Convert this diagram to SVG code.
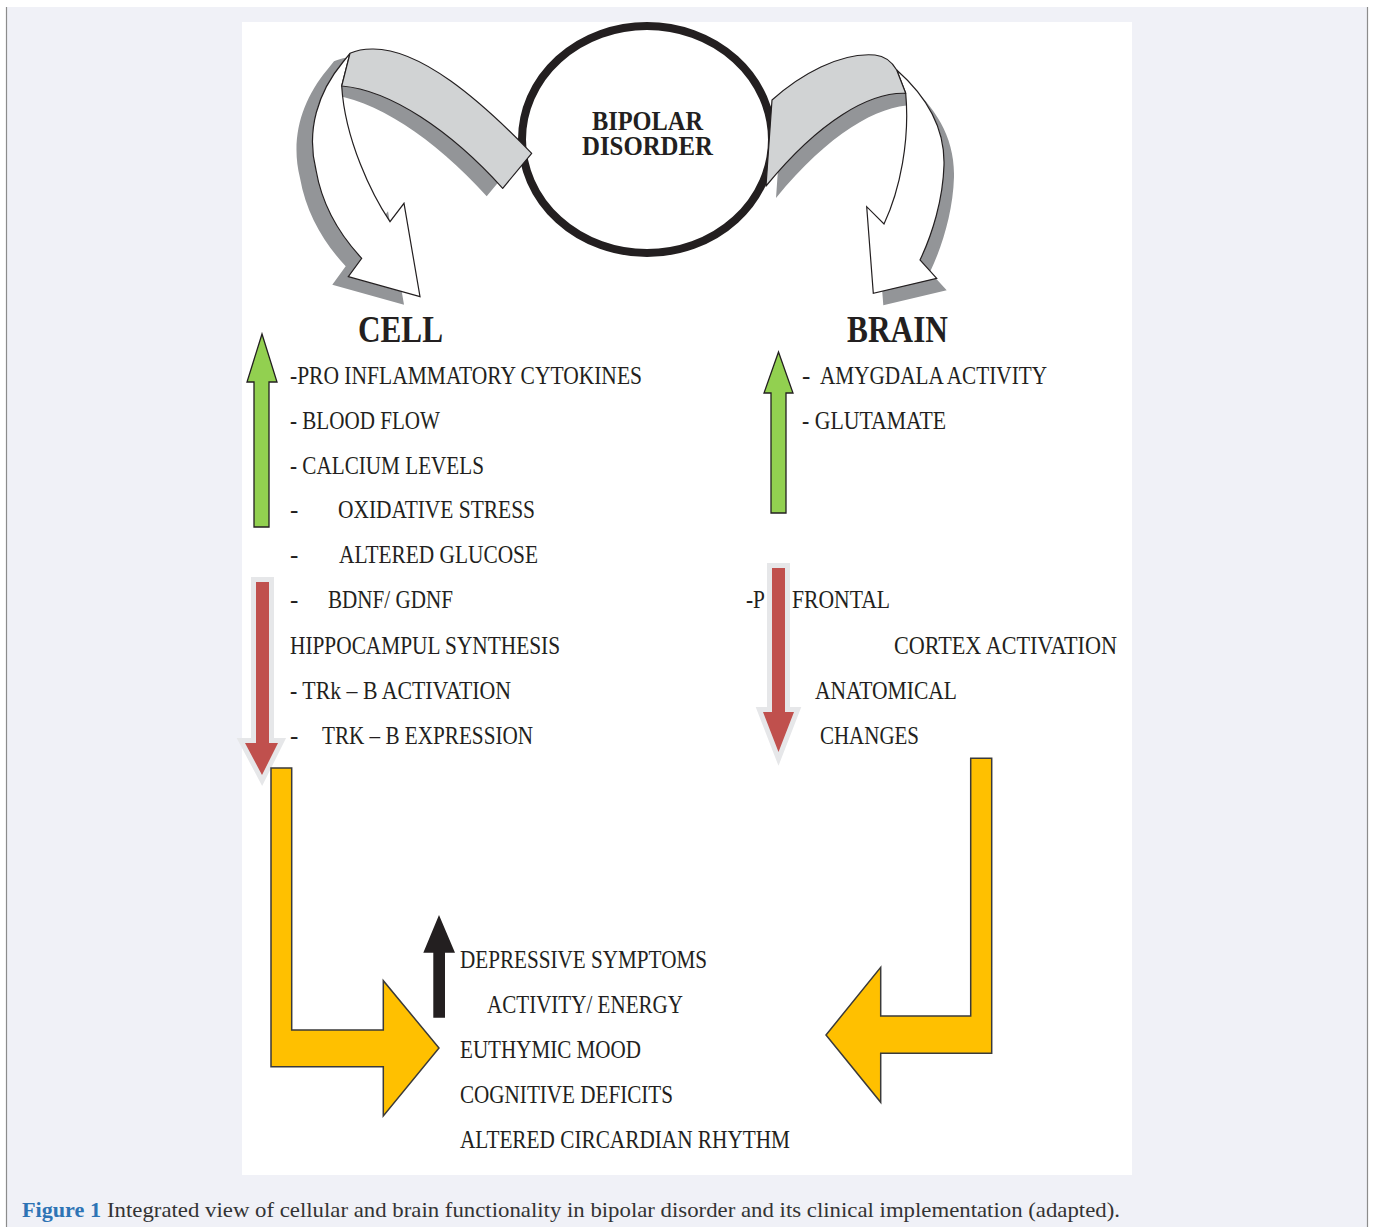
<svg xmlns="http://www.w3.org/2000/svg" width="1373" height="1227" viewBox="0 0 1373 1227">
<style>
.t{font-family:"Liberation Serif","Times New Roman",serif;font-size:25px;fill:#231f20}
.h{font-family:"Liberation Serif","Times New Roman",serif;font-weight:bold;fill:#231f20}
.cap{font-family:"Liberation Serif","Times New Roman",serif;font-size:21px;fill:#333333}
.shadow{fill:#939598;stroke:none}
.band{fill:#d1d3d4;stroke:#231f20;stroke-width:1.2;stroke-linejoin:round}
.white{fill:#ffffff;stroke:#231f20;stroke-width:1.2;stroke-linejoin:miter}
.green{fill:#92d050;stroke:#231f20;stroke-width:1.3}
.red{fill:#c0504d;stroke:#e6e7e9;stroke-width:10;paint-order:stroke;stroke-linejoin:miter;stroke-miterlimit:10}
.yellow{fill:#ffc000;stroke:#3a3a3a;stroke-width:1.5}
</style>
<defs>
<path id="lshape" d="M531.7,153.3 C480,100 420,48 372,49 C362,49 355,51 350,53.3 L343,62 C318,92 306,130 316,170 C322,205 340,235 361.7,258.3 L348.3,276.7 L420,296.7 L404,203.3 L390,221.7 C372,195 345,140 341.7,86 C390,90 450,130 502.7,188.3 Z"/>
<path id="rshape" d="M772,100 C800,75 840,52 875,55 C885,56 892,62 896.7,70 C925,95 945,125 944,165 C943,200 932,235 920,260 L936.7,278.3 L873.3,293.3 L866.7,206.7 L884,224 C900,190 910,140 905.7,93.3 C870,92 820,120 766,186 Z"/>
</defs>
<rect x="0" y="0" width="1373" height="1227" fill="#ffffff"/>
<rect x="6" y="7" width="1362" height="1220" fill="#f0f1f7"/>
<line x1="6.5" y1="7" x2="6.5" y2="1227" stroke="#8c8c8c" stroke-width="1.2"/>
<line x1="1367.5" y1="7" x2="1367.5" y2="1227" stroke="#8c8c8c" stroke-width="1.2"/>
<rect x="242" y="22" width="890" height="1153" fill="#ffffff"/>

<g id="bipolar-disorder">
<ellipse cx="647" cy="139.5" rx="125" ry="113.5" fill="#ffffff" stroke="#231f20" stroke-width="8"/>
<text class="h" font-size="27"><tspan x="592" y="130" textLength="111" lengthAdjust="spacingAndGlyphs">BIPOLAR</tspan><tspan x="582" y="155" textLength="131" lengthAdjust="spacingAndGlyphs">DISORDER</tspan></text>
</g>

<g id="connectors">
<g id="arrow-to-cell">
<use href="#lshape" class="shadow" transform="translate(-16,8)"/>
<path class="white" d="M350,53.3 L343,62 C318,92 306,130 316,170 C322,205 340,235 361.7,258.3 L348.3,276.7 L420,296.7 L404,203.3 L390,221.7 C372,195 345,140 341.7,86 Z"/>
<path class="band" d="M531.7,153.3 C480,100 420,48 372,49 C362,49 355,51 350,53.3 L341.7,86 C390,90 450,130 502.7,188.3 Z"/>
</g>
<g id="arrow-to-brain">
<use href="#rshape" class="shadow" transform="translate(10,12)"/>
<path class="white" d="M896.7,70 C925,95 945,125 944,165 C943,200 932,235 920,260 L936.7,278.3 L873.3,293.3 L866.7,206.7 L884,224 C900,190 910,140 905.7,93.3 Z"/>
<path class="band" d="M772,100 C800,75 840,52 875,55 C885,56 892,62 896.7,70 L905.7,93.3 C870,92 820,120 766,186 Z"/>
</g>
<polygon class="green" points="262,334 277,382 269,382 269,527 254,527 254,382 247,382"/>
<polygon class="green" points="778.5,352 793,393 786,393 786,513 771,513 771,393 764,393"/>
<polygon class="red" points="256,582 269,582 269,743 278,743 262,775 245,743 256,743"/>
<polygon class="red" points="772,568 785,568 785,712 794,712 778.5,752 763,712 772,712"/>
<polygon class="yellow" points="271,768 291.7,768 291.7,1030 383.3,1030 383.3,980.7 439,1048 383.3,1116 383.3,1066.7 271,1066.7"/>
<polygon class="yellow" points="970.7,758.3 991.7,758.3 991.7,1053.3 880.7,1053.3 880.7,1102.3 826,1035 880.7,967.3 880.7,1016 970.7,1016"/>
<polygon points="433.3,1017.7 445,1017.7 445,952.7 455,952.7 439,915 423.3,952.7 433.3,952.7" fill="#231f20"/>
</g>

<g id="cell">
<text class="h" x="358" y="342" font-size="38" textLength="85" lengthAdjust="spacingAndGlyphs">CELL</text>
<text class="t" x="290" y="384" textLength="352" lengthAdjust="spacingAndGlyphs">-PRO INFLAMMATORY CYTOKINES</text>
<text class="t" x="290" y="429" textLength="150" lengthAdjust="spacingAndGlyphs">- BLOOD FLOW</text>
<text class="t" x="290" y="474" textLength="194" lengthAdjust="spacingAndGlyphs">- CALCIUM LEVELS</text>
<text class="t" x="290" y="518">-</text>
<text class="t" x="338" y="518" textLength="197" lengthAdjust="spacingAndGlyphs">OXIDATIVE STRESS</text>
<text class="t" x="290" y="563">-</text>
<text class="t" x="339" y="563" textLength="199" lengthAdjust="spacingAndGlyphs">ALTERED GLUCOSE</text>
<text class="t" x="290" y="608">-</text>
<text class="t" x="328" y="608" textLength="125" lengthAdjust="spacingAndGlyphs">BDNF/ GDNF</text>
<text class="t" x="290" y="654" textLength="270" lengthAdjust="spacingAndGlyphs">HIPPOCAMPUL SYNTHESIS</text>
<text class="t" x="290" y="699" textLength="221" lengthAdjust="spacingAndGlyphs">- TRk – B ACTIVATION</text>
<text class="t" x="290" y="744">-</text>
<text class="t" x="322" y="744" textLength="211" lengthAdjust="spacingAndGlyphs">TRK – B EXPRESSION</text>
</g>

<g id="brain">
<text class="h" x="847" y="342" font-size="38" textLength="101" lengthAdjust="spacingAndGlyphs">BRAIN</text>
<text class="t" x="802" y="384">-</text>
<text class="t" x="820" y="384" textLength="227" lengthAdjust="spacingAndGlyphs">AMYGDALA ACTIVITY</text>
<text class="t" x="802" y="429" textLength="144" lengthAdjust="spacingAndGlyphs">- GLUTAMATE</text>
<text class="t" x="746" y="608" textLength="19" lengthAdjust="spacingAndGlyphs">-P</text>
<text class="t" x="792" y="608" textLength="98" lengthAdjust="spacingAndGlyphs">FRONTAL</text>
<text class="t" x="894" y="654" textLength="223" lengthAdjust="spacingAndGlyphs">CORTEX ACTIVATION</text>
<text class="t" x="815" y="699" textLength="142" lengthAdjust="spacingAndGlyphs">ANATOMICAL</text>
<text class="t" x="820" y="744" textLength="99" lengthAdjust="spacingAndGlyphs">CHANGES</text>
</g>

<g id="clinical">
<text class="t" x="460" y="968" textLength="247" lengthAdjust="spacingAndGlyphs">DEPRESSIVE SYMPTOMS</text>
<text class="t" x="487" y="1013" textLength="196" lengthAdjust="spacingAndGlyphs">ACTIVITY/ ENERGY</text>
<text class="t" x="460" y="1058" textLength="181" lengthAdjust="spacingAndGlyphs">EUTHYMIC MOOD</text>
<text class="t" x="460" y="1103" textLength="213" lengthAdjust="spacingAndGlyphs">COGNITIVE DEFICITS</text>
<text class="t" x="460" y="1148" textLength="330" lengthAdjust="spacingAndGlyphs">ALTERED CIRCARDIAN RHYTHM</text>
</g>

<g id="caption">
<text class="cap" x="22" y="1217" font-weight="bold" style="fill:#2e74b5" textLength="79" lengthAdjust="spacingAndGlyphs">Figure 1</text>
<text class="cap" x="107" y="1217" textLength="1013" lengthAdjust="spacingAndGlyphs">Integrated view of cellular and brain functionality in bipolar disorder and its clinical implementation (adapted).</text>
</g>
</svg>
